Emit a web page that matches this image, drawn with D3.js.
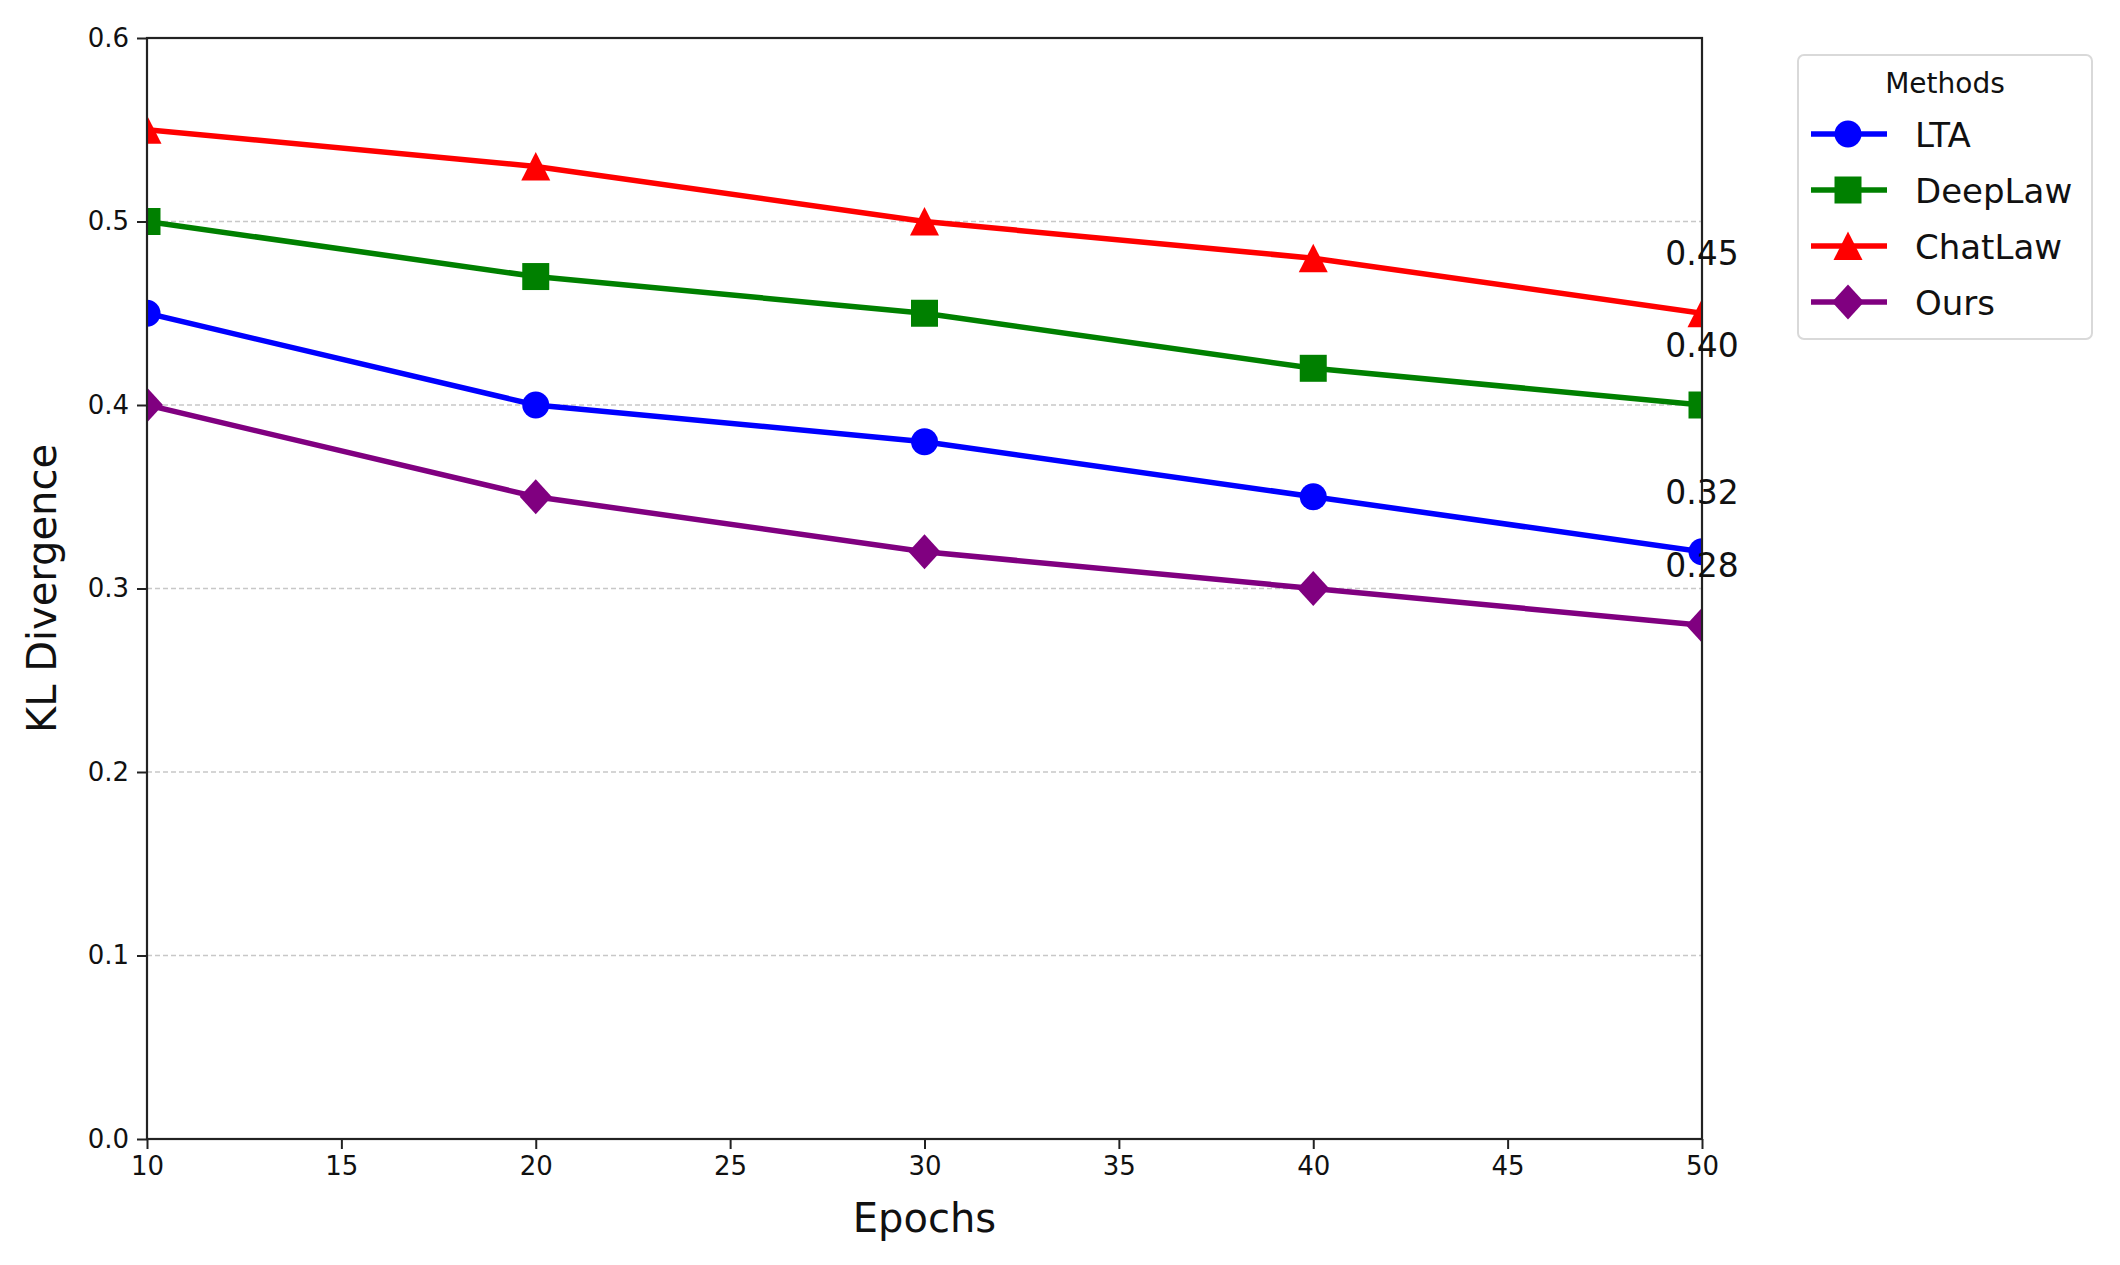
<!DOCTYPE html>
<html lang="en">
<head>
    <meta charset="UTF-8">
    <title>KL Divergence over Epochs</title>
    <script src="https://d3js.org/d3.v7.min.js"></script>
    <style>
        body { margin: 0; background: #fff; }
        text { font-family: "DejaVu Sans", sans-serif; fill: #111; }
        .grid line { stroke: #c8c8c8; stroke-width: 1.6px; stroke-dasharray: 5,3; }
    </style>
</head>
<body>
    <svg id="chart" width="2120" height="1265"></svg>

    <script>
        // Data
        const epochs = [10, 20, 30, 40, 50];
        const methods = ["LTA", "DeepLaw", "ChatLaw", "Ours"];
        const ltaValues = [0.45, 0.40, 0.38, 0.35, 0.32];
        const deepLawValues = [0.50, 0.47, 0.45, 0.42, 0.40];
        const chatLawValues = [0.55, 0.53, 0.50, 0.48, 0.45];
        const oursValues = [0.40, 0.35, 0.32, 0.30, 0.28];
        const xTicks = [10, 15, 20, 25, 30, 35, 40, 45, 50];
        const yTicks = [0.0, 0.1, 0.2, 0.3, 0.4, 0.5, 0.6];

        const seriesValues = [ltaValues, deepLawValues, chatLawValues, oursValues];
        const colors = ["#0000ff", "#008000", "#ff0000", "#800080"];
        const markers = ["circle", "square", "triangle", "diamond"];

        const margin = { left: 147, right: 418, top: 38, bottom: 126 };
        const width = 2120, height = 1265;

        const svg = d3.select("#chart");
        svg.append("rect").attr("width", width).attr("height", height).attr("fill", "#fff");

        const x = d3.scaleLinear().domain([10, 50]).range([margin.left, width - margin.right]);
        const y = d3.scaleLinear().domain([0, 0.6]).range([height - margin.bottom, margin.top]);

        // marker path for a given shape centred on 0,0
        function markerPath(shape) {
            const p = d3.path();
            if (shape === "circle") {
                p.arc(0, 0, 13.5, 0, 2 * Math.PI);
            } else if (shape === "square") {
                p.rect(-13.5, -13.5, 27, 27);
            } else if (shape === "triangle") {
                p.moveTo(0, -14.5); p.lineTo(14.5, 14); p.lineTo(-14.5, 14); p.closePath();
            } else {
                p.moveTo(0, -17.5); p.lineTo(16, 0); p.lineTo(0, 17.5); p.lineTo(-16, 0); p.closePath();
            }
            return p.toString();
        }

        // gridlines
        svg.append("g")
            .attr("class", "grid")
            .selectAll("line")
            .data(yTicks)
            .enter().append("line")
            .attr("x1", x.range()[0])
            .attr("x2", x.range()[1])
            .attr("y1", d => y(d))
            .attr("y2", d => y(d));

        // clip to the plot area like matplotlib does
        svg.append("clipPath").attr("id", "plotClip")
            .append("rect")
            .attr("x", margin.left)
            .attr("y", margin.top)
            .attr("width", x.range()[1] - margin.left)
            .attr("height", y.range()[0] - margin.top);

        const plot = svg.append("g").attr("clip-path", "url(#plotClip)");

        const line = d3.line()
            .x((d, i) => x(epochs[i]))
            .y(d => y(d));

        seriesValues.forEach((values, s) => {
            plot.append("path")
                .datum(values)
                .attr("d", line)
                .attr("fill", "none")
                .attr("stroke", colors[s])
                .attr("stroke-width", 5.5)
                .attr("stroke-linejoin", "round");

            plot.selectAll(".m" + s)
                .data(values)
                .enter().append("path")
                .attr("class", "m" + s)
                .attr("d", markerPath(markers[s]))
                .attr("transform", (d, i) => `translate(${x(epochs[i])},${y(d)})`)
                .attr("fill", colors[s]);
        });

        // axes
        const xAxis = svg.append("g")
            .attr("transform", `translate(0,${y(0)})`)
            .call(d3.axisBottom(x).tickValues(xTicks).tickSize(10).tickPadding(8));
        const yAxis = svg.append("g")
            .attr("transform", `translate(${x(10)},0)`)
            .call(d3.axisLeft(y).tickValues(yTicks).tickFormat(d3.format(".1f")).tickSize(10).tickPadding(8));

        [xAxis, yAxis].forEach(ax => {
            ax.select(".domain").remove();
            ax.selectAll(".tick line").attr("stroke", "#222").attr("stroke-width", 2);
            ax.selectAll(".tick text")
                .style("font-family", "DejaVu Sans")
                .style("font-size", "26px")
                .attr("fill", "#222");
        });

        // frame (all four spines)
        svg.append("rect")
            .attr("x", margin.left)
            .attr("y", margin.top)
            .attr("width", x.range()[1] - margin.left)
            .attr("height", y.range()[0] - margin.top)
            .attr("fill", "none")
            .attr("stroke", "#222")
            .attr("stroke-width", 2.2);

        // end value labels
        svg.append("g")
            .selectAll("text")
            .data(seriesValues)
            .enter().append("text")
            .attr("x", x(50))
            .attr("y", d => y(d[d.length - 1]) - 48)
            .attr("text-anchor", "middle")
            .style("font-size", "33px")
            .text(d => d3.format(".2f")(d[d.length - 1]));

        // axis titles
        svg.append("text")
            .attr("x", (x.range()[0] + x.range()[1]) / 2)
            .attr("y", 1232)
            .attr("text-anchor", "middle")
            .style("font-size", "40px")
            .text("Epochs");

        svg.append("text")
            .attr("transform", `translate(56,${(y.range()[0] + y.range()[1]) / 2}) rotate(-90)`)
            .attr("text-anchor", "middle")
            .style("font-size", "40px")
            .text("KL Divergence");

        // legend
        const legend = svg.append("g").attr("transform", "translate(1798,55)");
        legend.append("rect")
            .attr("width", 294)
            .attr("height", 284)
            .attr("rx", 6)
            .attr("fill", "#fff")
            .attr("stroke", "#d9d9d9")
            .attr("stroke-width", 2);
        legend.append("text")
            .attr("x", 147)
            .attr("y", 38)
            .attr("text-anchor", "middle")
            .style("font-size", "28px")
            .text("Methods");

        const entry = legend.selectAll(".entry")
            .data(methods)
            .enter().append("g")
            .attr("class", "entry")
            .attr("transform", (d, i) => `translate(0,${79 + i * 56})`);
        entry.append("line")
            .attr("x1", 13).attr("x2", 89)
            .attr("stroke", (d, i) => colors[i])
            .attr("stroke-width", 5.5);
        entry.append("path")
            .attr("d", (d, i) => markerPath(markers[i]))
            .attr("transform", "translate(50,0)")
            .attr("fill", (d, i) => colors[i]);
        entry.append("text")
            .attr("x", 117)
            .attr("y", 12.5)
            .style("font-size", "34px")
            .text(d => d);
    </script>
</body>
</html>
